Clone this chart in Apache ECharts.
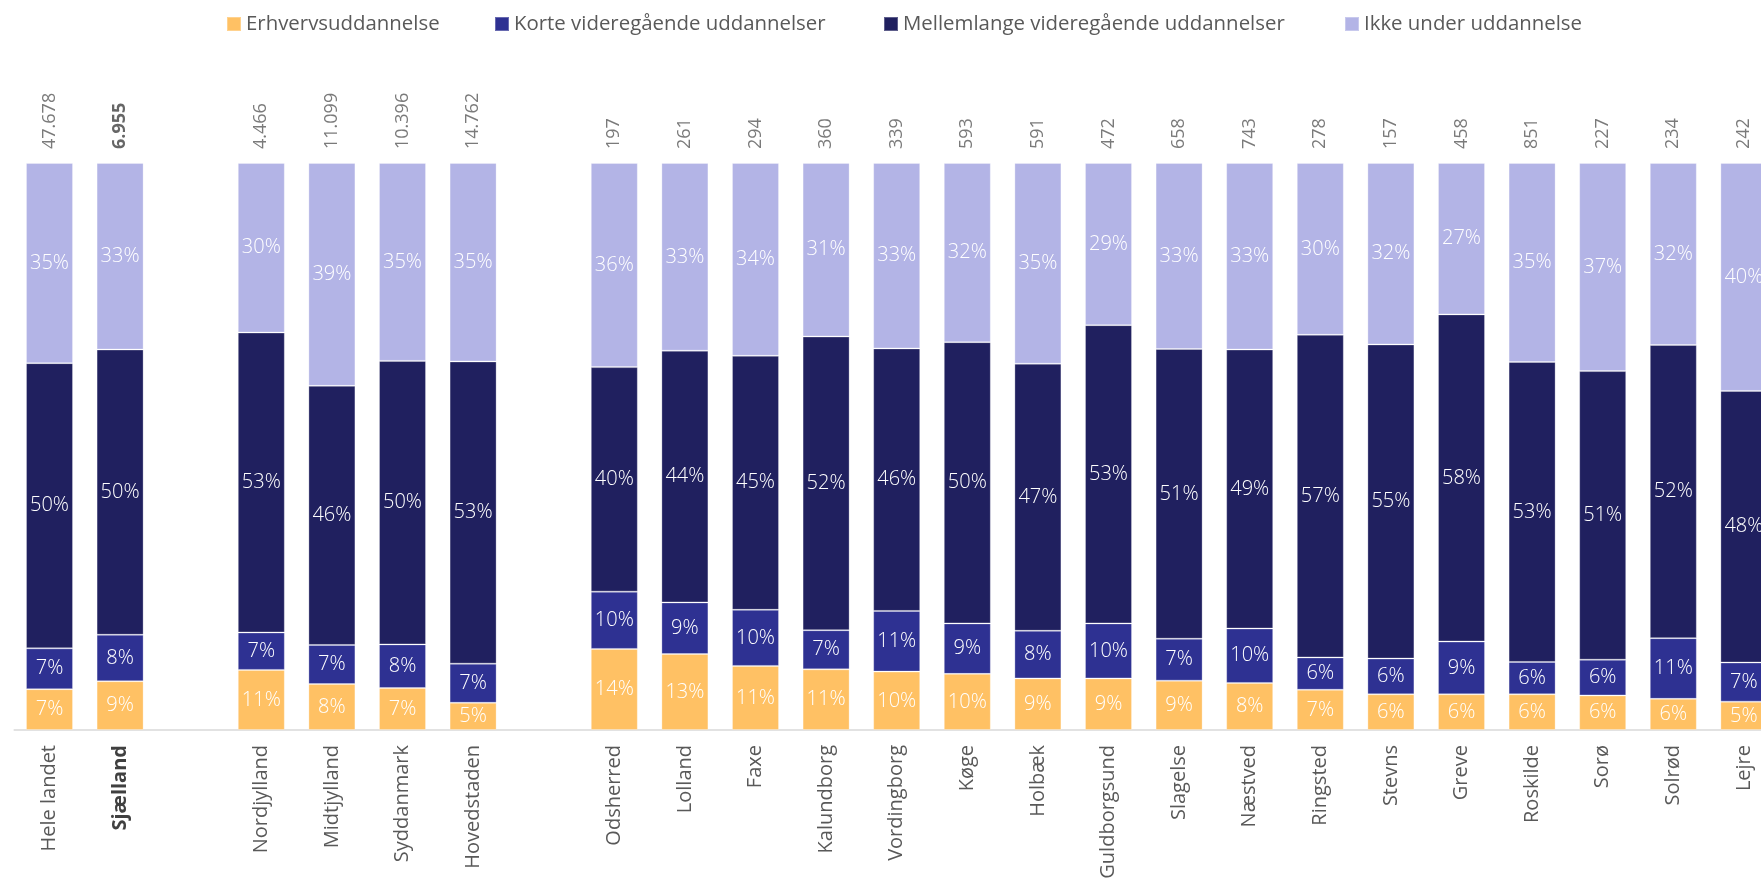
<!DOCTYPE html>
<html>
<head>
<meta charset="utf-8">
<script src="https://cdn.jsdelivr.net/npm/echarts@6/dist/echarts.min.js"></script>
<style>
html,body{margin:0;padding:0;background:#fff;}
#c{width:1761px;height:884px;}
</style>
</head>
<body>
<div id="c"></div>
<script>
const categories = ['Hele landet','Sjælland','','Nordjylland','Midtjylland','Syddanmark','Hovedstaden','','Odsherred','Lolland','Faxe','Kalundborg','Vordingborg','Køge','Holbæk','Guldborgsund','Slagelse','Næstved','Ringsted','Stevns','Greve','Roskilde','Sorø','Solrød','Lejre'];
const seriesNames = ['Erhvervsuddannelse','Korte videregående uddannelser','Mellemlange videregående uddannelser','Ikke under uddannelse'];
const erhverv = [7.2, 8.6, null, 10.6, 8.1, 7.4, 4.8, null, 14.3, 13.4, 11.3, 10.7, 10.3, 9.9, 9.1, 9.1, 8.7, 8.3, 7.1, 6.3, 6.3, 6.3, 6.1, 5.5, 5.0];
const korte = [7.2, 8.2, null, 6.6, 6.9, 7.7, 6.9, null, 10.1, 9.1, 9.9, 6.9, 10.7, 8.9, 8.4, 9.7, 7.4, 9.6, 5.7, 6.3, 9.3, 5.7, 6.3, 10.7, 6.9];
const mellemlange = [50.3, 50.3, null, 52.9, 45.7, 50.0, 53.3, null, 39.6, 44.4, 44.8, 51.8, 46.3, 49.6, 47.1, 52.6, 51.1, 49.2, 56.9, 55.4, 57.7, 52.9, 50.9, 51.7, 47.9];
const ikke = [35.3, 32.9, null, 29.9, 39.3, 34.9, 35.0, null, 36.0, 33.1, 34.0, 30.6, 32.7, 31.6, 35.4, 28.6, 32.8, 32.9, 30.3, 32.0, 26.7, 35.1, 36.7, 32.1, 40.2];
const counts = [47678, 6955, null, 4466, 11099, 10396, 14762, null, 197, 261, 294, 360, 339, 593, 591, 472, 658, 743, 278, 157, 458, 851, 227, 234, 242];
const boldCategory = 'Sjælland';
const colors = ['#FFC164', '#2E3192', '#20205F', '#B3B4E6'];

const FONT = '"Open Sans", "Noto Sans", sans-serif';
const TXT = '#595959';

function fmtCount(n) {
  return String(n).replace(/\B(?=(\d{3})+(?!\d))/g, '.');
}

const chart = echarts.init(document.getElementById('c'), null, {renderer: 'canvas'});

const valueArrays = [erhverv, korte, mellemlange, ikke];
const barSeries = valueArrays.map((arr, k) => ({
  name: seriesNames[k],
  type: 'bar',
  stack: 'total',
  barWidth: 47,
  data: arr,
  itemStyle: {color: colors[k], borderColor: 'rgba(255,255,255,0.28)', borderWidth: 1},
  label: {
    show: true,
    position: 'inside',
    color: '#ffffff',
    fontFamily: FONT,
    fontSize: 20,
    fontWeight: 300,
    formatter: p => (p.value == null ? '' : Math.round(p.value) + '%')
  },
  emphasis: {disabled: true},
  animation: false
}));

const totals = categories.map((c, i) => valueArrays.reduce((s, a) => s + (a[i] || 0), 0));
const countData = counts.map((n, i) => {
  if (n == null) return null;
  const item = {value: [i, totals[i]], count: n};
  if (categories[i] === boldCategory) item.label = {fontWeight: 'bold', color: '#404040'};
  return item;
});

const legends = seriesNames.map((name, k) => ({
  data: [name],
  left: [226, 494, 883, 1344][k],
  top: 14,
  padding: 0,
  icon: 'rect',
  itemWidth: 14,
  itemHeight: 14,
  selectedMode: false,
  textStyle: {color: TXT, fontFamily: FONT, fontSize: 20.4}
}));

chart.setOption({
  backgroundColor: '#ffffff',
  animation: false,
  legend: legends,
  grid: {left: 14.2, top: 163, width: 1765, bottom: 154, containLabel: false, outerBoundsMode: 'none'},
  xAxis: {
    type: 'category',
    data: categories,
    axisTick: {show: false},
    axisLine: {show: true, lineStyle: {color: '#D9D9D9', width: 1.5}},
    axisLabel: {
      interval: 0,
      rotate: 90,
      margin: 15,
      color: TXT,
      fontFamily: FONT,
      fontSize: 20,
      formatter: v => (v === boldCategory ? '{b|' + v + '}' : v),
      rich: {b: {fontWeight: 'bold', color: '#404040', fontFamily: FONT, fontSize: 20}}
    }
  },
  yAxis: {type: 'value', min: 0, max: 100, show: false, splitLine: {show: false}},
  series: barSeries.concat([{
    type: 'scatter',
    data: countData,
    symbolSize: 0,
    silent: true,
    label: {
      show: true,
      position: 'top',
      distance: 14,
      rotate: 90,
      align: 'left',
      verticalAlign: 'middle',
      color: TXT,
      fontFamily: FONT,
      fontSize: 18,
      formatter: p => fmtCount(p.data.count)
    },
    animation: false
  }])
});
</script>
</body>
</html>
